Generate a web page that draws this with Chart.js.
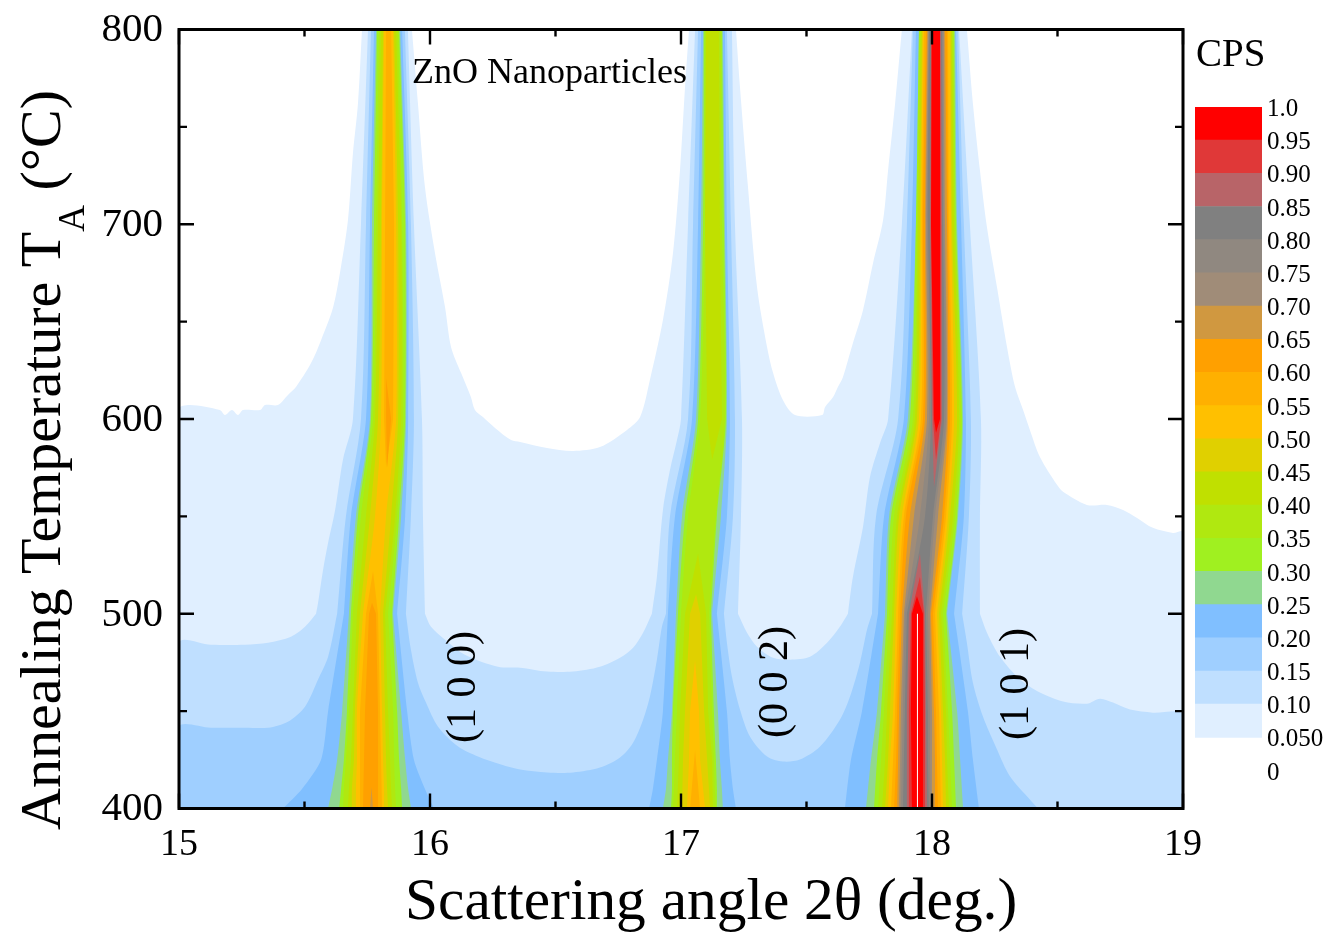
<!DOCTYPE html>
<html><head><meta charset="utf-8">
<style>html,body{margin:0;padding:0;background:#fff}canvas{position:absolute}</style>
<script src="https://cdn.jsdelivr.net/npm/chart.js@4"></script>
</head><body>
<canvas id="main" width="1327" height="934" style="left:0;top:0"></canvas>
<canvas id="bar" width="132" height="700" style="left:1195px;top:90px"></canvas>
<script>
const FONT = '"Liberation Serif"';
const bandColors = ['#e0efff','#bfdfff','#9fcfff','#80bfff','#90d890','#a0f020','#b0e810','#c0e000','#e0d000','#ffc000','#ffb000','#ffa000','#d09840','#a08c78','#908880','#808080','#b86468','#e03838','#ff0000'];
const legendLabels = ['0','0.050','0.10','0.15','0.20','0.25','0.30','0.35','0.40','0.45','0.50','0.55','0.60','0.65','0.70','0.75','0.80','0.85','0.90','0.95','1.0'];
const xTickLabels = [15,16,17,18,19];
const yTickLabels = [400,500,600,700,800];

// Whole-width contours as [2theta, T]
const contour005 = [[15,400],[15,605.1],[15.044,607.2],[15.163,604.6],[15.183,602],[15.211,604.6],[15.235,602],[15.255,604.6],[15.323,604.6],[15.343,607.2],[15.394,607.2],[15.434,612.3],[15.466,616.4],[15.526,628.7],[15.566,640.5],[15.614,657.4],[15.645,677.9],[15.673,702],[15.693,736.4],[15.713,762],[15.729,800],[15.928,800],[15.952,762],[15.98,719],[16.02,685.1],[16.06,657.4],[16.084,636.9],[16.124,623.6],[16.163,611.3],[16.179,604.6],[16.211,601],[16.259,595.4],[16.323,589.2],[16.359,588.2],[16.466,585.1],[16.57,583.6],[16.677,585.6],[16.785,594.4],[16.837,601],[16.876,620],[16.928,650.8],[16.968,685.1],[16.996,727.7],[17.016,770.3],[17.032,800],[17.219,800],[17.235,770.3],[17.267,719],[17.303,667.7],[17.343,636.9],[17.367,623.6],[17.406,609.7],[17.454,602],[17.562,602],[17.574,606.2],[17.606,611.3],[17.625,616.4],[17.645,621.5],[17.685,639],[17.725,655.9],[17.765,680],[17.805,702],[17.825,727.7],[17.853,762],[17.88,800],[18.139,800],[18.163,762],[18.191,727.7],[18.219,698.5],[18.259,667.7],[18.299,636.9],[18.331,616.4],[18.363,604.6],[18.39,594.4],[18.43,580.5],[18.498,566.2],[18.522,562.6],[18.617,555.9],[18.697,555.9],[18.761,553.3],[18.817,549.2],[18.88,544.1],[18.96,541.5],[19,542],[19,400]];
const contour010 = [[15,400],[15,485.1],[15.127,484.1],[15.263,484.1],[15.355,485.1],[15.446,488.2],[15.502,493.3],[15.546,500],[15.554,505.6],[15.574,522.6],[15.594,536.4],[15.622,553.3],[15.653,579],[15.693,600],[15.725,700],[15.753,800],[15.912,800],[15.936,700],[15.968,600],[15.972,550],[15.98,500],[16.004,493.3],[16.06,486.7],[16.139,479],[16.271,472.8],[16.359,472.3],[16.466,470.3],[16.57,470.3],[16.677,472.8],[16.757,477.4],[16.809,482.6],[16.849,490.3],[16.884,500],[16.904,519],[16.928,553.3],[16.956,573.8],[16.984,589.2],[17,600],[17.028,700],[17.056,800],[17.203,800],[17.215,700],[17.243,600],[17.239,550],[17.227,500],[17.263,490.3],[17.303,483.1],[17.367,477.4],[17.434,476.4],[17.514,477.9],[17.582,485.1],[17.633,493.3],[17.665,500],[17.685,519],[17.725,544.6],[17.753,570.3],[17.793,587.7],[17.825,600],[17.88,700],[17.92,800],[18.108,800],[18.151,700],[18.195,600],[18.191,550],[18.191,500],[18.219,490.3],[18.271,477.9],[18.351,466.2],[18.43,459.5],[18.522,454.9],[18.617,453.8],[18.669,456.4],[18.721,454.4],[18.789,450.8],[18.88,449.2],[19,448.2],[19,400]];
const contour015 = [[15,400],[15,442],[15.127,441.5],[15.263,441.5],[15.355,441.5],[15.434,444.6],[15.502,452.3],[15.554,466.2],[15.594,477.9],[15.63,500],[15.665,550],[15.725,600],[15.745,700],[15.765,800],[15.9,800],[15.924,700],[15.936,600],[15.924,550],[15.904,500],[15.924,481.5],[15.952,464.6],[15.984,454.4],[16.032,442],[16.112,431.8],[16.191,426.7],[16.283,422.6],[16.359,420],[16.466,418.5],[16.57,418.5],[16.677,421],[16.757,426.2],[16.809,433.8],[16.849,445.6],[16.876,457.4],[16.904,476.4],[16.924,493.3],[16.94,500],[16.956,550],[17.028,600],[17.048,700],[17.068,800],[17.183,800],[17.199,700],[17.215,600],[17.207,550],[17.171,500],[17.183,485.1],[17.203,467.7],[17.235,450.8],[17.275,436.9],[17.343,426.7],[17.406,424.1],[17.474,425.1],[17.554,431.8],[17.633,445.6],[17.673,457.4],[17.713,474.9],[17.741,491.8],[17.761,500],[17.777,550],[17.865,600],[17.9,700],[17.924,800],[18.104,800],[18.127,700],[18.155,600],[18.147,550],[18.12,500],[18.139,485.1],[18.163,464.6],[18.203,447.2],[18.259,430.3],[18.311,416.4],[18.39,404.6],[18.422,400]];

// Peak tubes: level, left edge and right edge at each temperature knot
const knotsAB = [400,410,425,450,500,550,600,700,800];
const knotsC = [400,425,450,500,550,600,700,800];
const peak100 = [
 [0.20,[15.414,15.49,15.566,15.594,15.657,15.685,15.745,15.761,15.777],[16.016,15.98,15.936,15.909,15.869,15.901,15.913,15.913,15.889]],
 [0.25,[15.594,15.61,15.63,15.65,15.677,15.705,15.761,15.769,15.785],[15.925,15.913,15.901,15.885,15.853,15.885,15.905,15.905,15.881]],
 [0.30,[15.638,15.646,15.657,15.669,15.685,15.713,15.765,15.777,15.789],[15.889,15.885,15.877,15.869,15.849,15.877,15.901,15.901,15.877]],
 [0.35,[15.654,15.657,15.665,15.677,15.693,15.725,15.773,15.785,15.797],[15.865,15.861,15.857,15.853,15.833,15.869,15.893,15.889,15.873]],
 [0.40,[15.673,15.677,15.685,15.693,15.709,15.745,15.781,15.793,15.805],[15.849,15.845,15.841,15.833,15.821,15.861,15.885,15.885,15.865]],
 [0.45,[15.689,15.689,15.697,15.701,15.721,15.761,15.793,15.805,15.813],[15.833,15.829,15.825,15.821,15.813,15.845,15.873,15.873,15.857]],
 [0.50,[15.705,15.705,15.709,15.709,15.733,15.781,15.805,15.809,15.817],[15.817,15.817,15.813,15.809,15.801,15.825,15.865,15.865,15.853]]
];
const peak002 = [
 [0.20,[16.873,16.888,16.904,16.928,16.948,16.976,17.044,17.068,17.08],[17.219,17.207,17.195,17.183,17.143,17.183,17.195,17.183,17.175]],
 [0.25,[16.928,16.94,16.948,16.964,16.98,17.004,17.06,17.08,17.088],[17.167,17.163,17.155,17.147,17.124,17.159,17.183,17.175,17.167]],
 [0.30,[16.96,16.964,16.964,16.968,16.988,17.016,17.068,17.088,17.092],[17.143,17.143,17.139,17.131,17.119,17.143,17.179,17.171,17.163]],
 [0.35,[16.968,16.972,16.976,16.984,17,17.028,17.076,17.096,17.096],[17.139,17.135,17.131,17.124,17.112,17.139,17.175,17.163,17.159]]
];
const peak101 = [
 [0.20,[17.653,17.677,17.721,17.785,17.809,17.888,17.92,17.936],[18.187,18.163,18.143,18.088,18.127,18.135,18.116,18.096]],
 [0.25,[17.737,17.757,17.781,17.813,17.829,17.904,17.936,17.948],[18.124,18.112,18.1,18.06,18.104,18.124,18.1,18.092]],
 [0.30,[17.769,17.781,17.797,17.821,17.837,17.912,17.936,17.948],[18.096,18.088,18.08,18.056,18.1,18.12,18.096,18.088]],
 [0.35,[17.785,17.797,17.809,17.829,17.849,17.924,17.94,17.952],[18.08,18.072,18.064,18.044,18.092,18.116,18.092,18.084]],
 [0.40,[17.801,17.813,17.821,17.841,17.861,17.932,17.944,17.956],[18.068,18.06,18.056,18.036,18.084,18.108,18.088,18.08]],
 [0.45,[17.813,17.825,17.833,17.849,17.869,17.94,17.952,17.96],[18.056,18.052,18.044,18.028,18.072,18.1,18.08,18.076]],
 [0.50,[17.825,17.833,17.845,17.857,17.88,17.948,17.956,17.964],[18.044,18.04,18.036,18.02,18.064,18.088,18.076,18.072]],
 [0.55,[17.837,17.845,17.853,17.865,17.888,17.956,17.96,17.968],[18.036,18.032,18.028,18.012,18.056,18.08,18.068,18.064]],
 [0.60,[17.849,17.857,17.861,17.873,17.896,17.964,17.964,17.976],[18.024,18.02,18.016,18.004,18.048,18.072,18.064,18.06]],
 [0.65,[17.861,17.865,17.869,17.88,17.912,17.972,17.972,17.98],[18.012,18.012,18.008,17.996,18.04,18.064,18.06,18.052]],
 [0.70,[17.869,17.873,17.876,17.888,17.928,17.98,17.976,17.984],[18,18,18,17.992,18.024,18.06,18.052,18.048]],
 [0.75,[17.876,17.88,17.884,17.892,17.952,17.988,17.98,17.988],[17.996,17.992,17.992,17.984,18.012,18.056,18.048,18.044]],
 [0.80,[17.884,17.888,17.892,17.9,17.972,17.996,17.984,17.988],[17.988,17.984,17.984,17.976,18.004,18.048,18.044,18.04]]
];

// Closed islands inside the peaks: level, 2theta list, temperature list
const islandLevels = [0.55,0.55,0.60,0.60,0.65, 0.40,0.40,0.45,0.50,0.55, 0.85,0.85,0.90,0.90,0.95,0.95];
const islandX = [
 [15.721,15.721,15.745,15.773,15.793,15.801,15.809],
 [15.825,15.817,15.821,15.825,15.845,15.857,15.853],
 [15.733,15.741,15.757,15.769,15.785,15.793,15.793],
 [15.829,15.825,15.825,15.845],
 [15.761,15.767,15.773],
 [16.984,16.992,16.996,17.016,17.068,17.1,17.108,17.124,17.127],
 [17.124,17.104,17.096,17.1,17.151,17.155,17.163],
 [17.004,17.008,17.016,17.036,17.06,17.076,17.092,17.104,17.116],
 [17.024,17.032,17.036,17.056,17.072,17.076,17.096],
 [17.036,17.056,17.076],
 [17.9,17.9,17.908,17.952,17.972,17.976,17.98],
 [18.008,18,17.992,17.996,18.036,18.04,18.04],
 [17.908,17.908,17.916,17.952,17.968,17.972,17.972],
 [18.016,18.004,17.996,17.996,18.032,18.036,18.036],
 [17.92,17.916,17.92,17.94,17.964,17.964,17.964],
 [18.016,18.008,17.996,18,18.032,18.032,18.032]
];
const islandT = [
 [400,450,500,522,500,450,400],
 [575,600,700,800,800,700,600],
 [400,450,500,505.6,500,450,400],
 [575,600,621,600],
 [400,411,400],
 [400,425,450,500,531,500,450,425,400],
 [579,600,700,800,800,700,600],
 [400,425,450,500,510,500,450,425,400],
 [400,425,450,476,450,425,400],
 [400,430,400],
 [400,450,500,531,500,450,400],
 [565,600,700,800,800,700,600],
 [400,450,500,519,500,450,400],
 [579,600,700,800,800,700,600],
 [400,450,500,509,500,450,400],
 [593,600,700,800,800,700,600]
];
const whiteLineX = [17.942,17.942];
const whiteLineT = [400,500];

// A repeated vertex keeps a sharp corner under bezier smoothing
const sharpen = pts => pts.flatMap(p => (p[1]===800||p[1]===500||p[1]===400) ? [p,p] : [p]);
const polys = [];
const addPoly = (level, pts, tension) => polys.push({level, pts, tension});
addPoly(0.05, sharpen(contour005), 0.3); addPoly(0.10, sharpen(contour010), 0.3); addPoly(0.15, sharpen(contour015), 0.3);
const addTubes = (table, knots) => table.forEach(([lv,L,R]) => {
  const pts = knots.map((t,i)=>[L[i],t]);
  for (let i=knots.length-1;i>=0;i--) pts.push([R[i],knots[i]]);
  addPoly(lv, sharpen(pts), 0.25);
});
addTubes(peak100,knotsAB); addTubes(peak002,knotsAB); addTubes(peak101,knotsC);
islandLevels.forEach((lv,i)=>addPoly(lv, islandX[i].map((x,j)=>[x,islandT[i][j]]), 0));
polys.sort((a,b)=>a.level-b.level);

const datasets = polys.map((p,i)=>({
  label:'CPS '+p.level.toFixed(2),
  data:p.pts.map(([x,y])=>({x,y})),
  showLine:true, fill:'shape', pointRadius:0, borderWidth:0, tension:p.tension,
  borderColor:'transparent',
  backgroundColor:bandColors[Math.round(p.level/0.05)-1],
  order:1000-i
}));
datasets.push({label:'max',data:whiteLineX.map((x,i)=>({x,y:whiteLineT[i]})),showLine:true,pointRadius:0,borderWidth:1,borderColor:'#fff',fill:false,order:-1});

const frame = {
  id:'frame',
  afterDatasetsDraw(c){
    const g=c.ctx,a=c.chartArea,X=c.scales.x,Y=c.scales.y;
    g.save(); g.strokeStyle='#000'; g.lineWidth=2.4;
    X.ticks.forEach(t=>{const p=X.getPixelForValue(t.value),l=Number.isInteger(t.value)?15:7;
      g.beginPath();g.moveTo(p,a.bottom);g.lineTo(p,a.bottom-l);g.moveTo(p,a.top);g.lineTo(p,a.top+l);g.stroke();});
    Y.ticks.forEach(t=>{const p=Y.getPixelForValue(t.value),l=t.value%100===0?15:8;
      g.beginPath();g.moveTo(a.left,p);g.lineTo(a.left+l,p);g.moveTo(a.right,p);g.lineTo(a.right-l,p);g.stroke();});
    g.lineWidth=3; g.strokeRect(a.left,a.top,a.right-a.left,a.bottom-a.top);
    g.fillStyle='#000'; g.textBaseline='alphabetic';
    const text=(s,x,y,size,rot)=>{g.save();g.translate(x,y);g.rotate(rot||0);g.font=size+'px '+FONT;g.textAlign='left';g.fillText(s,0,0);g.restore();};
    text('ZnO Nanoparticles',412,83,36);
    text('CPS',1196,66,39);
    const R=-Math.PI/2;
    text('(1 0 0)',474.5,743,42,R);
    text('(0 0 2)',787,738,42,R);
    text('(1 0 1)',1028,740,42,R);
    text('Scattering angle 2θ (deg.)',405,919,59.4);
    // y title with subscript
    let y=830; g.font='58px '+FONT;
    const a1='Annealing Temperature T'; const w1=g.measureText(a1).width;
    text(a1,60,y,58,R); y-=w1;
    g.font='37px '+FONT; const w2=g.measureText('A').width;
    text('A',84,y,37,R); y-=w2;
    text(' (°C)',60,y,58,R);
    g.restore();
  }
};

new Chart(document.getElementById('main'),{
  type:'scatter',
  data:{datasets},
  plugins:[frame],
  options:{
    responsive:false,animation:false,
    layout:{autoPadding:false,padding:{left:0,top:29.5,right:144,bottom:0}},
    plugins:{legend:{display:false},tooltip:{enabled:false}},
    scales:{
      x:{type:'linear',min:15,max:19,
        afterFit(s){s.height=125.5;s.paddingLeft=0;s.paddingRight=0;},
        grid:{display:false,drawTicks:false},border:{display:false},
        ticks:{stepSize:0.5,maxRotation:0,padding:14,color:'#000',font:{family:FONT,size:38},
          callback:v=>xTickLabels.includes(v)?String(v):''}},
      y:{type:'linear',min:400,max:800,
        afterFit(s){s.width=179;s.paddingTop=0;s.paddingBottom=0;},
        grid:{display:false,drawTicks:false},border:{display:false},
        ticks:{stepSize:50,padding:16,labelOffset:1,color:'#000',font:{family:FONT,size:41},
          callback:v=>yTickLabels.includes(v)?String(v):''}}
    }
  }
});

const barLevels = bandColors.map((_,i)=>[(i+1)*0.05,(i+2)*0.05]);
new Chart(document.getElementById('bar'),{
  type:'bar',
  data:{labels:['CPS'],datasets:barLevels.map((b,i)=>({label:legendLabels[i+1],data:[b],backgroundColor:bandColors[i],barPercentage:1,categoryPercentage:1,grouped:false,borderWidth:0}))},
  options:{
    responsive:false,animation:false,
    layout:{autoPadding:false,padding:{left:0,top:17,right:0,bottom:19.5}},
    plugins:{legend:{display:false},tooltip:{enabled:false}},
    scales:{
      x:{display:false},
      y:{type:'linear',position:'right',min:0,max:1,
        afterFit(s){s.width=65;s.paddingTop=0;s.paddingBottom=0;},
        grid:{display:false,drawTicks:false},border:{display:false},
        ticks:{stepSize:0.05,autoSkip:false,padding:5,labelOffset:2.5,color:'#000',font:{family:FONT,size:25},
          callback:v=>legendLabels[Math.round(v/0.05)]}}
    }
  }
});
</script>
</body></html>
